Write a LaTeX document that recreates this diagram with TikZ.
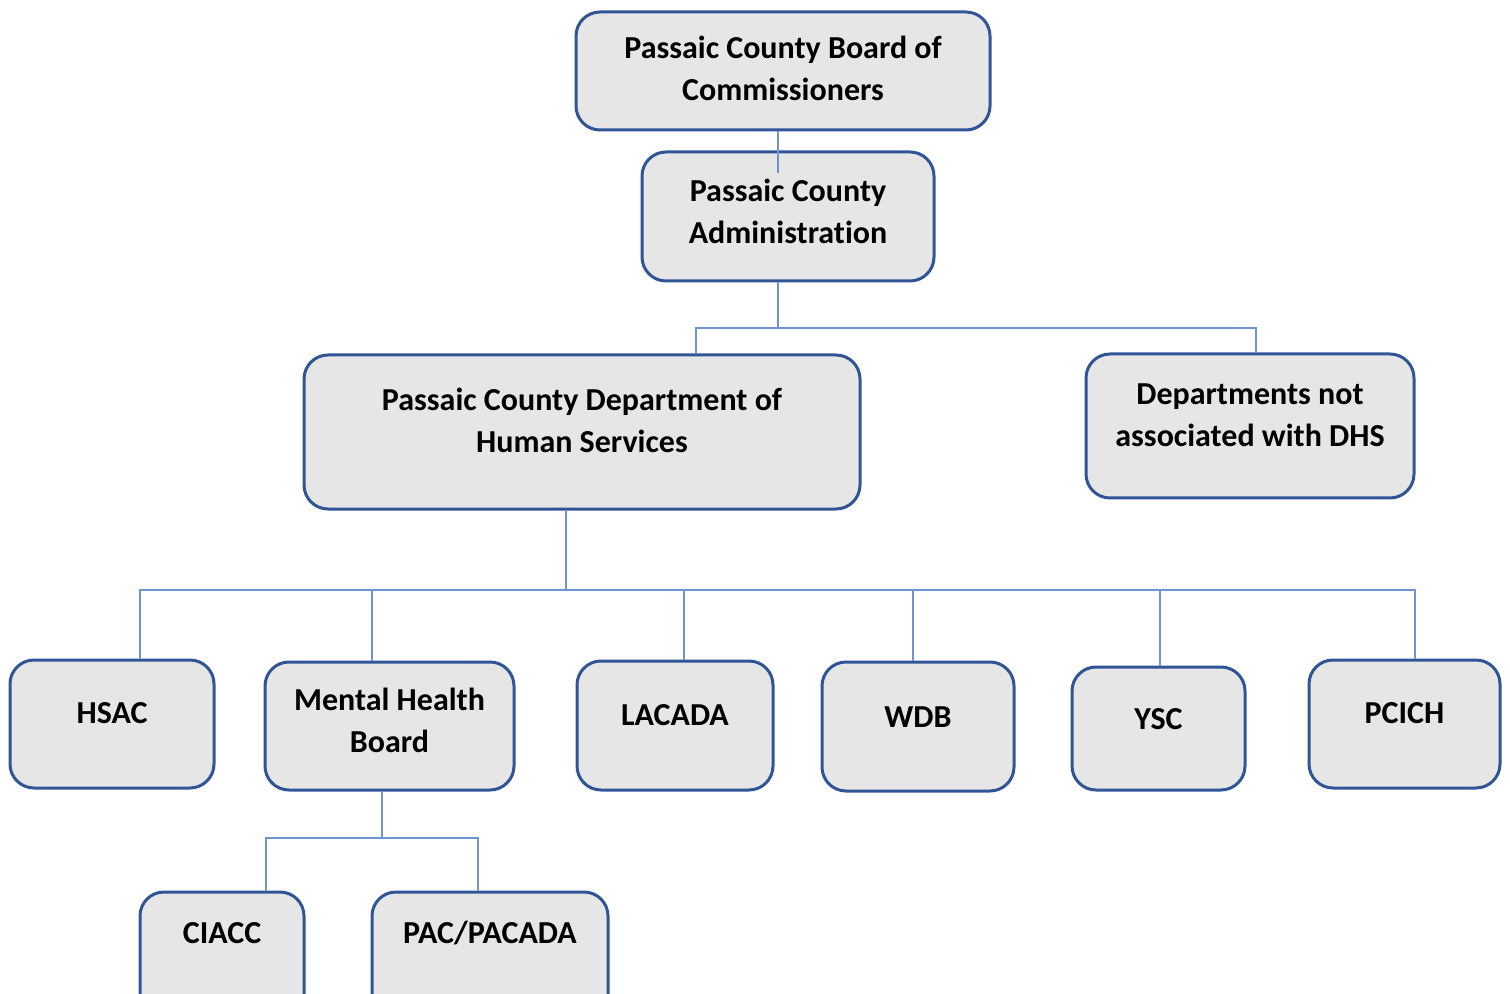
\documentclass[tikz,border=0pt]{standalone}
\usepackage{fontspec}
\setmainfont{Carlito}[Ligatures=CommonOff]
\definecolor{boxfill}{HTML}{E7E6E6}
\definecolor{boxedge}{HTML}{2F5597}
\definecolor{linkblue}{HTML}{6F94D2}
\begin{document}
\begin{tikzpicture}[x=0.5pt, y=-0.5pt,
    unit/.style={draw=boxedge, line width=1.5pt, fill=boxfill, rounded corners=12pt,
        align=center, inner sep=0pt, text height=11pt,
        font=\fontsize{16}{21}\selectfont\bfseries},
    twoline/.style={text height=32pt},
    link/.style={draw=linkblue, line width=0.8pt}]
    \useasboundingbox (0,0) rectangle (1510,994);

    % county level
    \node[unit, twoline, minimum width=207pt, minimum height=59pt, text depth=2.1pt] (board) at (783,71) {Passaic County Board of\\Commissioners};
    \node[unit, twoline, minimum width=146pt, minimum height=64.5pt, text depth=5.1pt] (admin) at (788,216.5) {Passaic County\\Administration};
    \node[unit, twoline, minimum width=278pt, minimum height=77pt, text depth=11.1pt] (dhs) at (582,432) {Passaic County Department of\\Human Services};
    \node[unit, twoline, minimum width=164pt, minimum height=72pt, text depth=11.1pt] (notdhs) at (1250,426) {Departments not\\associated with DHS};

    % boards under DHS
    \node[unit, minimum width=102pt, minimum height=64pt, text depth=11.1pt] (hsac) at (112,724) {HSAC};
    \node[unit, twoline, minimum width=124.5pt, minimum height=64pt, text depth=5.1pt] (mhb) at (389.5,726) {Mental Health\\Board};
    \node[unit, minimum width=98pt, minimum height=64.5pt, text depth=11.1pt] (lacada) at (675,725.5) {LACADA};
    \node[unit, minimum width=96pt, minimum height=64.5pt, text depth=10.1pt] (wdb) at (918,726.5) {WDB};
    \node[unit, minimum width=86.5pt, minimum height=61.5pt, text depth=10.1pt] (ysc) at (1158.5,728.5) {YSC};
    \node[unit, minimum width=95.5pt, minimum height=64pt, text depth=11.1pt] (pcich) at (1404.5,724) {PCICH};

    % under the mental health board
    \node[unit, minimum width=82pt, minimum height=64pt, text depth=23.1pt] (ciacc) at (222,956) {CIACC};
    \node[unit, minimum width=118pt, minimum height=64pt, text depth=23.1pt] (pac) at (490,956) {PAC/PACADA};

    % connectors
    \coordinate (admtop) at (778,173);
    \coordinate (split) at (778,328);
    \coordinate (bus) at (566,590);
    \coordinate (subbus) at (382,838);

    \draw[link] (board.south -| admtop) -- (admtop);
    \draw[link] (admin.south -| split) -- (split);
    \draw[link] ([xshift=57pt]dhs.north) |- (split);
    \draw[link] ([xshift=3pt]notdhs.north) |- (split);

    \draw[link] (dhs.south -| bus) -- (bus);
    \foreach \kid/\dx in {hsac/14, mhb/-8.75, lacada/4.5, wdb/-2.5, ysc/0.75, pcich/5.25}
        \draw[link] ([xshift=\dx pt]\kid.north) |- (bus);

    \draw[link] (mhb.south -| subbus) -- (subbus);
    \draw[link] ([xshift=22pt]ciacc.north) |- (subbus);
    \draw[link] ([xshift=-6pt]pac.north) |- (subbus);
\end{tikzpicture}
\end{document}
